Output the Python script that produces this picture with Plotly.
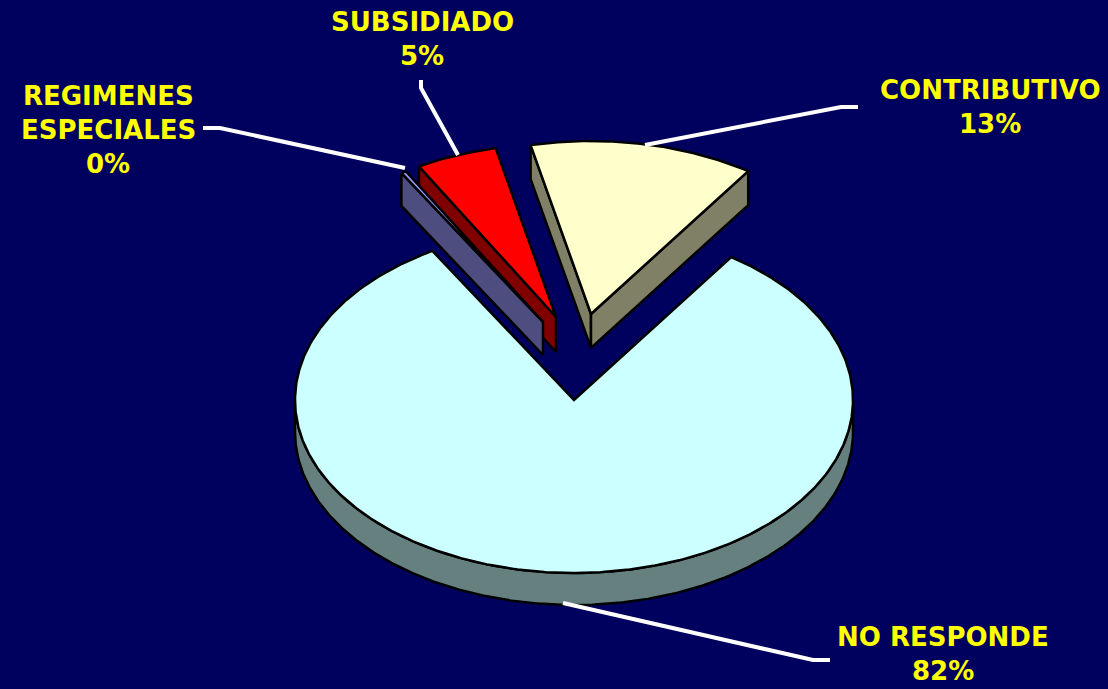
import numpy as np
import plotly.graph_objects as go

# --- data (percent of respondents, clockwise from the cut at the upper right)
categories = ["NO RESPONDE", "REGIMENES\nESPECIALES", "SUBSIDIADO", "CONTRIBUTIVO"]
values = [82.0, 0.3, 4.7, 13.0]

# --- style and layout constants
top_colors = ["#CCFFFF", "#9999FF", "#FF0000", "#FFFFCC"]
side_colors = ["#668080", "#4D4D80", "#800000", "#808066"]
BG = "#00005F"
START_DEG = 34.3
RX, RY = 279, 173
DEPTHS = [32, 33, 35, 34]
APEX = [(574, 400), (543, 322), (556, 317), (591, 314)]
LABEL_X = [943, 108, 422, 990]
LABEL_LINE_Y = [[637, 671], [96, 130, 164], [22, 56], [90, 124]]
LEADERS = [
    "M563,603 L813,660 L830,660",
    "M405,168 L220,128 L203,128",
    "M458,155 L421,88 L421,80",
    "M645,145 L841,107 L858,107",
]


def arc(apex, a0, a1):
    t = np.radians(np.linspace(a0, a1, max(int(abs(a1 - a0)) * 2, 2)))
    return apex[0] + RX * np.sin(t), apex[1] - RY * np.cos(t)


angles = START_DEG + np.concatenate([[0], np.cumsum(values)]) * 3.6
fig = go.Figure()


def face(x, y, color):
    fig.add_trace(go.Scatter(
        x=list(x) + [x[0]], y=list(y) + [y[0]], mode="lines", fill="toself",
        fillcolor=color, line=dict(color="black", width=2.5), hoverinfo="skip",
        showlegend=False))


def radial_side(i, angle, color):
    ex, ey = arc(APEX[i], angle, angle)
    px, py = APEX[i]
    d = DEPTHS[i]
    face([ex[0], px, px, ex[0]], [ey[0], py, py + d, ey[0] + d], color)


def top(i):
    ax, ay = arc(APEX[i], angles[i], angles[i + 1])
    face(list(ax) + [APEX[i][0]], list(ay) + [APEX[i][1]], top_colors[i])


# contributivo
radial_side(3, angles[3], side_colors[3])
radial_side(3, angles[4], side_colors[3])
top(3)
# subsidiado
radial_side(2, angles[2], side_colors[2])
top(2)
# regimenes especiales
radial_side(1, angles[1], side_colors[1])
top(1)
# no responde: rim along the front of the ellipse, then top
rx_, ry_ = arc(APEX[0], 90, 270)
face(list(rx_) + list(rx_[::-1]), list(ry_) + list(ry_[::-1] + DEPTHS[0]), side_colors[0])
top(0)

annotations = []
for name, v, lx, ys in zip(categories, values, LABEL_X, LABEL_LINE_Y):
    lines = name.split("\n") + [f"{round(v)}%"]
    for line, ly in zip(lines, ys):
        annotations.append(dict(
            x=lx, y=ly, xref="x", yref="y", showarrow=False, align="center",
            text=line,
            font=dict(family="DejaVu Sans", size=26, color="#FFFF00", weight="bold")))

shapes = [dict(type="path", path=p, xref="x", yref="y",
               line=dict(color="white", width=4)) for p in LEADERS]

fig.update_layout(
    width=1108, height=689, margin=dict(l=0, r=0, t=0, b=0),
    paper_bgcolor=BG, plot_bgcolor=BG, showlegend=False,
    xaxis=dict(range=[0, 1108], visible=False, fixedrange=True),
    yaxis=dict(range=[689, 0], visible=False, fixedrange=True),
    annotations=annotations, shapes=shapes)

fig.write_html(
    "out.html", config={"displayModeBar": False},
    post_script=f"document.body.style.margin='0';document.body.style.overflow='hidden';"
                f"document.body.style.background='{BG}';")
